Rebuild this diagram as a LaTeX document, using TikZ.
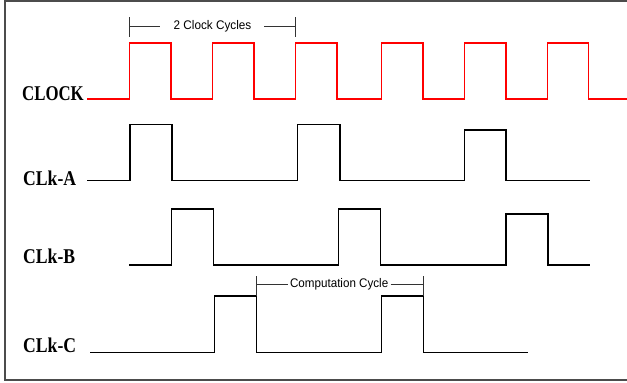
\documentclass[tikz,border=0pt]{standalone}
\usepackage{fontspec}
\setmainfont{Liberation Serif}
\newfontfamily\arialfont{Liberation Sans}
\usetikzlibrary{positioning,calc}
\newcommand{\sqz}[2]{\scalebox{#1}[1]{#2}}

\begin{document}
\begin{tikzpicture}[x=1pt, y=-1pt, line join=miter]
            \tikzstyle{sig}=[line width=1.5pt, black]
            \tikzstyle{clk}=[line width=1.5pt, red]
            \tikzstyle{lbl}=[anchor=base west, inner sep=0pt, font=\fontsize{21}{24}\selectfont\bfseries]
            \tikzstyle{ann}=[inner sep=0pt, font=\arialfont\fontsize{12.5}{14}\selectfont]
            \tikzstyle{dim}=[line width=0.8pt, black!80]
            \useasboundingbox (0,0) rectangle (627,383);
            % frame
            \draw[line width=1.5pt, black!70] (627,1) -- (5,1) -- (5,380) -- (627,380);
            % labels
            \node[lbl] (clock) at (22,100.7) {\sqz{0.8}{CLOCK}};
            \node[lbl] (clka) at (23,185) {\sqz{0.84}{CLk-A}};
            \node[lbl] (clkb) at (23,263) {\sqz{0.84}{CLk-B}};
            \node[lbl] (clkc) at (23,352) {\sqz{0.84}{CLk-C}};
            % clock
            \draw[clk] (87,99) -- (129.3,99) |- (171,43) |- (212.7,99) |- (254,43) |- (295.7,99)
                |- (337,43) |- (381.3,99) |- (423,43) |- (464.7,99) |- (506,43) |- (547.7,99)
                |- (588.5,43) |- (627,99);
            % clk-a
            \draw[sig] (87,180.7) -| (130,124.3) -| (172,180.7) -| (297.7,124.3) -| (340,180.7)
                -| (464.7,130) -| (506,180.7) -- (590,180.7);
            % clk-b
            \draw[sig] (129.3,265) -| (171.7,209) -| (213.7,265) -| (338.3,209) -| (380.3,265)
                -| (506,214) -| (548,265) -- (590,265);
            % clk-c
            \draw[sig] (90,352.3) -| (214.3,296) -| (256.3,352.3) -| (381.7,296) -| (423.3,352.3)
                -- (527.7,352.3);
            % 2 clock cycles
            \coordinate (t1) at (129.3,17);
            \coordinate (t2) at (295.7,17);
            \node[ann] (twocyc) at (212.5,26) {\sqz{0.94}{2 Clock Cycles}};
            \draw[dim] (t1) -- ++(0,20);
            \draw[dim] (t2) -- ++(0,20);
            \draw[dim] (t1 |- twocyc) -- (160,26);
            \draw[dim] (264,26) -- (t2 |- twocyc);
            % computation cycle
            \coordinate (c1) at (256.3,276);
            \coordinate (c2) at (423.3,276);
            \node[ann] (compcyc) at (339.2,284) {\sqz{0.93}{Computation Cycle}};
            \draw[dim] (c1) -- ++(0,20);
            \draw[dim] (c2) -- ++(0,20);
            \draw[dim] (c1 |- compcyc) -- ([xshift=-1.5pt]compcyc.west);
            \draw[dim] ([xshift=2pt]compcyc.east) -- (c2 |- compcyc);
        \end{tikzpicture}
\end{document}
